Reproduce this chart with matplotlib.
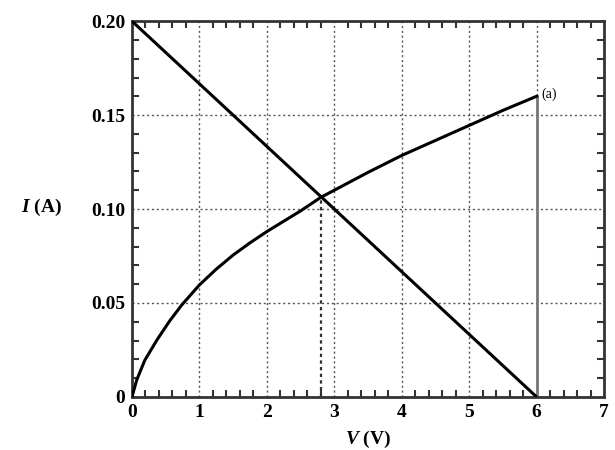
import matplotlib
matplotlib.use("Agg")
import matplotlib.pyplot as plt
from matplotlib.ticker import MultipleLocator

# curve (a)
v_curve = [0, 0.07, 0.19, 0.37, 0.56, 0.74, 1.0, 1.25, 1.5, 1.75, 2.0, 2.25, 2.5, 2.8, 3.0,
           3.5, 4.0, 4.5, 5.0, 5.5, 6.0]
i_curve = [0, 0.009, 0.0195, 0.0303, 0.0405, 0.049, 0.0596, 0.068, 0.0755, 0.082, 0.088, 0.0935,
           0.099, 0.1062, 0.110, 0.1195, 0.1285, 0.1365, 0.1445, 0.1525, 0.160]

# straight load line
v_line = [0, 6]
i_line = [0.20, 0]

# operating point and end marker
v_op, i_op = 2.8, 0.1062
v_end, i_end = 6, 0.16

x_ticks = [0, 1, 2, 3, 4, 5, 6, 7]
y_ticks = [0, 0.05, 0.10, 0.15, 0.20]
y_labels = ["0", "0.05", "0.10", "0.15", "0.20"]

plt.rcParams['font.family'] = ['Liberation Serif', 'DejaVu Serif']
plt.rcParams['mathtext.fontset'] = 'custom'
plt.rcParams['mathtext.it'] = 'Liberation Serif:italic:bold'
plt.rcParams['mathtext.rm'] = 'Liberation Serif:bold'

fig = plt.figure(figsize=(6.15, 4.5), dpi=100)
ax = fig.add_axes([0.2146, 0.118, 0.7675, 0.835])

ax.plot(v_line, i_line, color='black', lw=2.2, solid_capstyle='butt', zorder=3)
ax.plot(v_curve, i_curve, color='black', lw=2.2, zorder=3)
ax.plot([v_end, v_end], [0, i_end], color='#777777', lw=2, zorder=2)
ax.plot([v_op, v_op], [0, i_op], color='#333333', lw=1.6, ls=(0, (1.5, 1.5)), zorder=2)
ax.text(v_end + 0.07, i_end + 0.001, "(a)", fontsize=10, va='center', ha='left')

ax.set_xlim(0, 7)
ax.set_ylim(0, 0.20)
ax.set_xticks(x_ticks)
ax.set_yticks(y_ticks)
ax.set_yticklabels(y_labels)
ax.xaxis.set_minor_locator(MultipleLocator(0.2))
ax.yaxis.set_minor_locator(MultipleLocator(0.01))
ax.tick_params(which='both', direction='in', top=True, right=True, labelsize=14, width=1.5, color='#333333')
ax.tick_params(which='major', length=0, pad=5)
ax.tick_params(which='minor', length=5)
for t in ax.get_xticklabels() + ax.get_yticklabels():
    t.set_fontweight('bold')

ax.grid(True, which='major', color='#555555', ls=(0, (1.5, 2)), lw=1)
for s in ax.spines.values():
    s.set_linewidth(2)
    s.set_color('#333333')

fig.text(0.067, 0.54, r"$I$ (A)", fontsize=14, ha='center', va='center', fontweight='bold')
fig.text(0.598, 0.024, r"$V$ (V)", fontsize=14, ha='center', va='center', fontweight='bold')

fig.savefig("out.png", dpi=100)
